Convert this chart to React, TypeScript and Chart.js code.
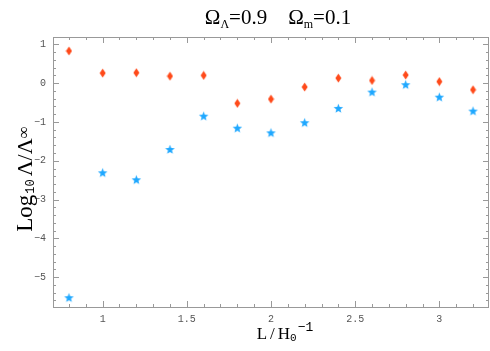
import React, { useEffect, useRef } from "react";
import { Chart, registerables } from "chart.js";

Chart.register(...registerables);

const xValues = [0.8, 1.0, 1.2, 1.4, 1.6, 1.8, 2.0, 2.2, 2.4, 2.6, 2.8, 3.0, 3.2];
const redSeries = [0.83, 0.26, 0.27, 0.18, 0.2, -0.52, -0.41, -0.1, 0.13, 0.07, 0.21, 0.04, -0.17];
const blueSeries = [-5.53, -2.31, -2.49, -1.71, -0.85, -1.16, -1.28, -1.02, -0.65, -0.23, -0.04, -0.36, -0.72];
const xTickLabels = ["1", "1.5", "2", "2.5", "3"];
const yTickLabels = ["−5", "−4", "−3", "−2", "−1", "0", "1"];

const RED = "#ff4a1a";
const BLUE = "#1fa8ff";
const FRAME = "#999999";
const TICKTXT = "#555555";

function makeDiamond(): HTMLCanvasElement {
  const c = document.createElement("canvas");
  c.width = 7;
  c.height = 10;
  const g = c.getContext("2d")!;
  g.fillStyle = RED;
  g.beginPath();
  g.moveTo(3.5, 0.5);
  g.lineTo(6.5, 5);
  g.lineTo(3.5, 9.5);
  g.lineTo(0.5, 5);
  g.closePath();
  g.fill();
  return c;
}

function makeStar(): HTMLCanvasElement {
  const c = document.createElement("canvas");
  c.width = 11;
  c.height = 11;
  const g = c.getContext("2d")!;
  g.fillStyle = BLUE;
  g.beginPath();
  const cx = 5.5, cy = 5.8, R = 5, r = 2.1;
  for (let i = 0; i < 10; i++) {
    const ang = -Math.PI / 2 + (i * Math.PI) / 5;
    const rad = i % 2 === 0 ? R : r;
    const px = cx + rad * Math.cos(ang);
    const py = cy + rad * Math.sin(ang);
    if (i === 0) g.moveTo(px, py);
    else g.lineTo(px, py);
  }
  g.closePath();
  g.fill();
  return c;
}

type Part = [string, string, number, number?];

function drawParts(ctx: CanvasRenderingContext2D, parts: Part[], cx: number, baseY: number) {
  let total = 0;
  for (const p of parts) {
    ctx.font = p[1];
    total += ctx.measureText(p[0]).width + (p[3] || 0);
  }
  let x = cx - total / 2;
  for (const p of parts) {
    ctx.font = p[1];
    ctx.fillText(p[0], x, baseY + p[2]);
    x += ctx.measureText(p[0]).width + (p[3] || 0);
  }
}

const framePlugin = {
  id: "framePlugin",
  afterDraw(chart: any) {
    const { ctx, chartArea } = chart;
    const xs = chart.scales.x;
    const ys = chart.scales.y;
    const { left, right, top, bottom } = chartArea;
    ctx.save();
    ctx.strokeStyle = FRAME;
    ctx.lineWidth = 1;
    ctx.strokeRect(Math.round(left) + 0.5, Math.round(top) + 0.5, Math.round(right - left) - 1, Math.round(bottom - top));
    ctx.beginPath();
    for (let v = 0.8; v <= 3.25; v += 0.1) {
      const vv = Math.round(v * 10) / 10;
      const major = Math.abs(vv * 2 - Math.round(vv * 2)) < 1e-6;
      const len = major ? 6 : 3;
      const px = Math.round(xs.getPixelForValue(vv)) + 0.5;
      ctx.moveTo(px, bottom);
      ctx.lineTo(px, bottom - len);
      ctx.moveTo(px, top);
      ctx.lineTo(px, top + len);
    }
    for (let v = -5.6; v <= 1.1; v += 0.2) {
      const vv = Math.round(v * 5) / 5;
      const major = Math.abs(vv - Math.round(vv)) < 1e-6;
      const len = major ? 6 : 3;
      const py = Math.round(ys.getPixelForValue(vv)) + 0.5;
      ctx.moveTo(left, py);
      ctx.lineTo(left + len, py);
      ctx.moveTo(right, py);
      ctx.lineTo(right - len, py);
    }
    ctx.stroke();

    ctx.fillStyle = "#000";
    ctx.textBaseline = "alphabetic";
    ctx.textAlign = "left";
    const serif = "'Liberation Serif', 'Times New Roman', serif";
    const mono = "'Liberation Mono', monospace";

    // title
    drawParts(
      ctx,
      [
        ["Ω", `21px ${serif}`, 0],
        ["Λ", `12px ${serif}`, 4],
        ["=0.9", `21px ${serif}`, 0],
        ["    ", `21px ${serif}`, 0],
        ["Ω", `21px ${serif}`, 0],
        ["m", `12px ${serif}`, 4],
        ["=0.1", `21px ${serif}`, 0],
      ],
      278,
      24
    );

    // y label (rotated)
    ctx.save();
    ctx.translate(32, 179);
    ctx.rotate(-Math.PI / 2);
    drawParts(
      ctx,
      [
        ["Log", `23px ${serif}`, 0, 1],
        ["10", `12px ${mono}`, 2, 3],
        ["Λ/Λ", `22px ${serif}`, 0],
        ["∞", `17px ${serif}`, -3],
      ],
      0,
      0
    );
    ctx.restore();

    // x label
    drawParts(
      ctx,
      [
        ["L", `17px ${serif}`, 0, 3],
        ["/", `17px ${serif}`, 0, 3],
        ["H", `17px ${serif}`, 0],
        ["0", `11px ${mono}`, 2, 1],
        ["−1", `13px ${mono}`, -8],
      ],
      285,
      339
    );
    ctx.restore();
  },
};

export default function App() {
  const ref = useRef<HTMLCanvasElement>(null);
  useEffect(() => {
    const diamond = makeDiamond();
    const star = makeStar();
    const chart = new Chart(ref.current!, {
      type: "scatter",
      data: {
        datasets: [
          {
            label: "red",
            data: xValues.map((x, i) => ({ x, y: redSeries[i] })),
            pointStyle: diamond as any,
            backgroundColor: RED,
            borderColor: RED,
          },
          {
            label: "blue",
            data: xValues.map((x, i) => ({ x, y: blueSeries[i] })),
            pointStyle: star as any,
            backgroundColor: BLUE,
            borderColor: BLUE,
          },
        ],
      },
      options: {
        animation: false,
        responsive: false,
        layout: { autoPadding: false, padding: { top: 37, right: 1, left: 0, bottom: 0 } },
        plugins: { legend: { display: false }, tooltip: { enabled: false }, title: { display: false } },
        scales: {
          x: {
            type: "linear",
            min: 0.705,
            max: 3.295,
            grid: { display: false, drawTicks: false },
            border: { display: false },
            afterFit: (s: any) => {
              s.height = 44;
            },
            ticks: {
              stepSize: 0.5,
              includeBounds: false,
              autoSkip: false,
              maxRotation: 0,
              padding: 6,
              color: TICKTXT,
              font: { family: "'Liberation Mono', monospace", size: 10 },
              callback: (v: any) => {
                const idx = [1, 1.5, 2, 2.5, 3].findIndex((t) => Math.abs(t - v) < 1e-6);
                return idx >= 0 ? xTickLabels[idx] : "";
              },
            },
          },
          y: {
            type: "linear",
            min: -5.77,
            max: 1.19,
            grid: { display: false, drawTicks: false },
            border: { display: false },
            afterFit: (s: any) => {
              s.width = 53;
            },
            ticks: {
              stepSize: 1,
              includeBounds: false,
              autoSkip: false,
              padding: 7,
              color: TICKTXT,
              font: { family: "'Liberation Mono', monospace", size: 10 },
              callback: (v: any) => {
                const idx = Math.round(v) + 5;
                return Math.abs(v - Math.round(v)) < 1e-6 && idx >= 0 && idx < yTickLabels.length ? yTickLabels[idx] : "";
              },
            },
          },
        },
      },
      plugins: [framePlugin],
    });
    return () => chart.destroy();
  }, []);
  return (
    <div style={{ position: "absolute", left: 0, top: 0, width: 490, height: 351, background: "#fff" }}>
      <canvas ref={ref} width={490} height={351} style={{ width: 490, height: 351 }} />
    </div>
  );
}
